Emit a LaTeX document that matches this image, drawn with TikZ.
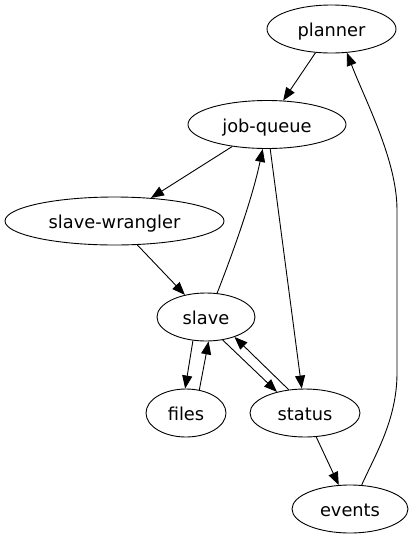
\documentclass[tikz,border=0pt]{standalone}
\usepackage{fontspec}
\setmainfont{DejaVu Sans}
\usetikzlibrary{shapes.geometric,arrows.meta}
\tikzset{
  gnode/.style={draw, ellipse, inner sep=0pt, minimum height=48pt, line width=0.9pt,
    text height=15.4pt, text depth=0pt,
    font=\fontsize{17.8}{20}\selectfont},
  gedge/.style={draw, line width=0.9pt, -{Triangle[length=13pt,width=10pt]}},
}
\begin{document}
\begin{tikzpicture}[x=1pt,y=-1pt]
\useasboundingbox (0,0) rectangle (415,539);
\node[gnode, minimum width=129pt] (planner) at (331.5,29) {planner};
\node[gnode, minimum width=158pt] (jq) at (267,124.5) {job-queue};
\node[gnode, minimum width=219pt] (sw) at (114.5,221) {slave-wrangler};
\node[gnode, minimum width=98pt] (slave) at (206,317) {slave};
\node[gnode, minimum width=80pt] (files) at (186,413) {files};
\node[gnode, minimum width=110pt] (status) at (305,413) {status};
\node[gnode, minimum width=116pt] (events) at (350,509) {events};

\path[gedge] (planner) -- (jq);
\path[gedge] (jq) -- (sw);
\path[gedge] (sw) -- (slave);
\path[gedge] (jq) -- (status);
\path[gedge] (status) -- (events);
\path[gedge] (slave.65.4) .. controls (232,255) and (252,200) .. (jq.260.7);
\path[gedge] (slave.241.6) -- (files.92.5);
\path[gedge] (files.60.5) -- (slave.276.8);
\path[gedge] (slave.306.5) -- (status.143.1);
\path[gedge] (status.125.3) -- (slave.325.4);
\path[gedge] (events.64.4) .. controls (375,455) and (397,420) .. (397,373)
  -- (397,210) .. controls (397,160) and (365,100) .. (planner.303.7);
\end{tikzpicture}
\end{document}
